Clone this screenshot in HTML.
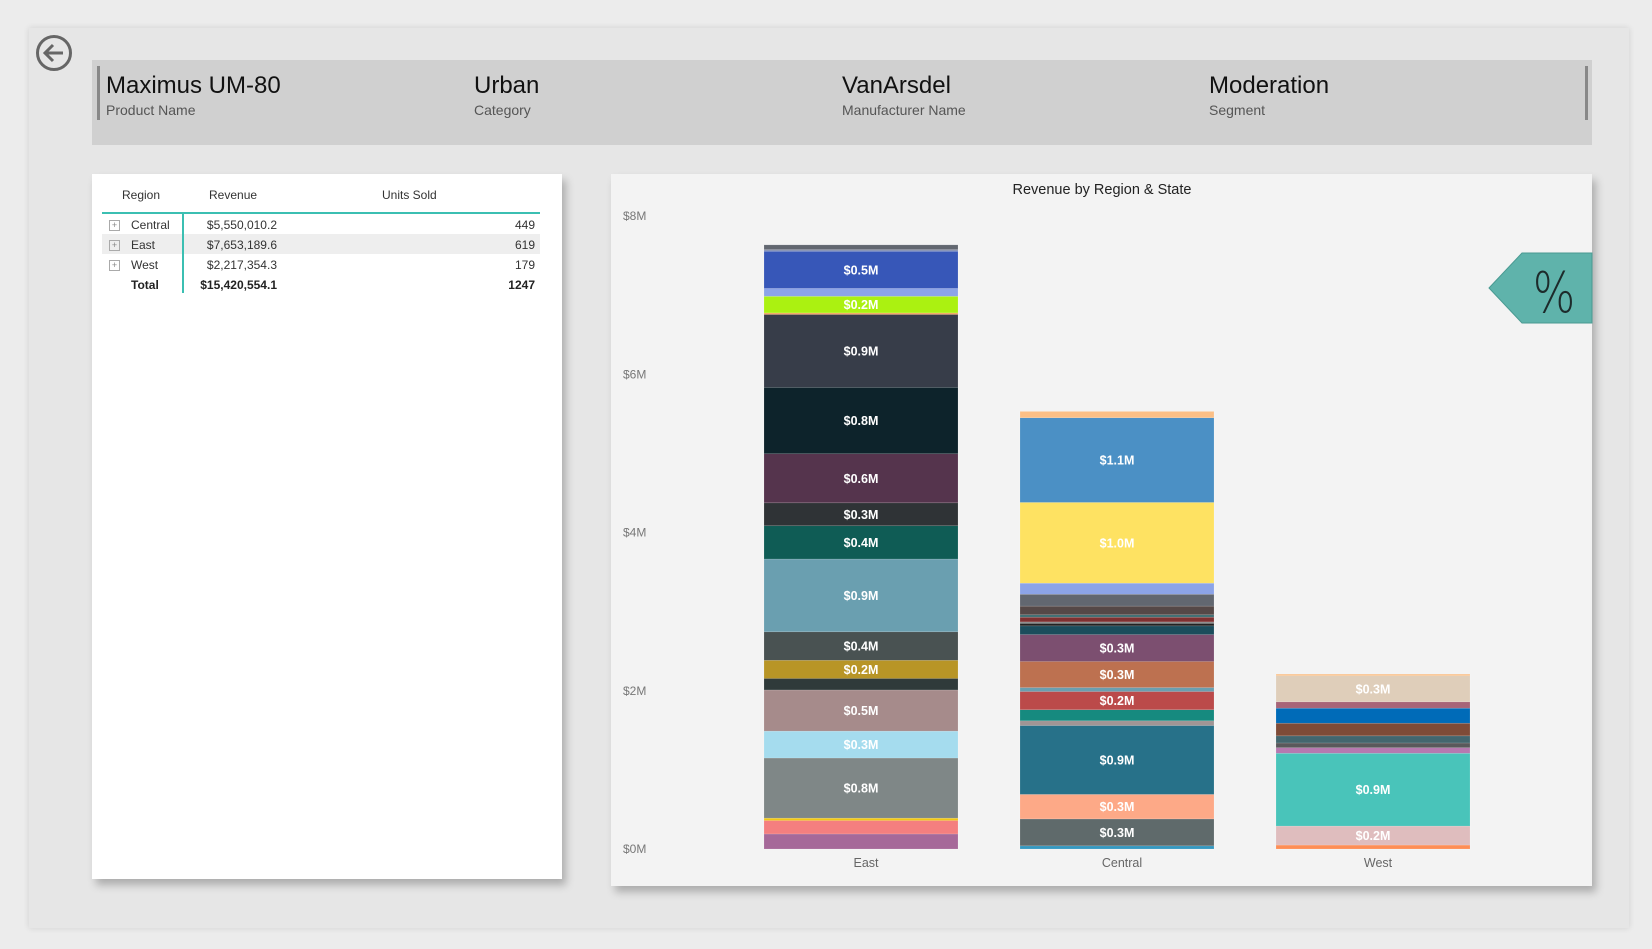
<!DOCTYPE html>
<html><head><meta charset="utf-8">
<style>
body{margin:0;width:1652px;height:949px;background:#ececec;font-family:"Liberation Sans",sans-serif;overflow:hidden;position:relative}
.abs{position:absolute}
#outer{left:29px;top:28px;width:1600px;height:900px;background:#e6e6e6;box-shadow:0 0 6px rgba(0,0,0,0.12)}
#band{left:92px;top:60px;width:1500px;height:85px;background:#d0d0d0}
.cardtitle{font-size:24px;color:#111;top:12px}
.cardsub{font-size:14px;color:#555;top:42px}
#table{left:92px;top:174px;width:470px;height:705px;background:#fff;box-shadow:4px 6px 8px rgba(0,0,0,0.25)}
#chartcard{left:611px;top:174px;width:981px;height:712px;background:#f3f3f3;box-shadow:4px 6px 8px rgba(0,0,0,0.25)}
.t{font-size:12px;color:#333;position:absolute}
.plus{position:absolute;width:9px;height:9px;border:1px solid #aaa;font-size:9px;line-height:9px;text-align:center;color:#888}
</style></head><body>
<div id="outer" class="abs"></div>
<svg class="abs" style="left:35px;top:34px" width="40" height="40">
<circle cx="19" cy="19" r="16.5" fill="none" stroke="#666" stroke-width="3"/>
<path d="M28 19H11M18 11l-8 8 8 8" fill="none" stroke="#666" stroke-width="3"/>
</svg>
<div id="band" class="abs">
<div class="abs" style="left:5px;top:6px;width:3px;height:54px;background:#888"></div>
<div class="abs" style="left:1493px;top:6px;width:3px;height:54px;background:#888"></div>
<div class="abs cardtitle" style="left:14px">Maximus UM-80</div>
<div class="abs cardsub" style="left:14px">Product Name</div>
<div class="abs cardtitle" style="left:382px">Urban</div>
<div class="abs cardsub" style="left:382px">Category</div>
<div class="abs cardtitle" style="left:750px">VanArsdel</div>
<div class="abs cardsub" style="left:750px">Manufacturer Name</div>
<div class="abs cardtitle" style="left:1117px">Moderation</div>
<div class="abs cardsub" style="left:1117px">Segment</div>
</div>

<div id="table" class="abs">
<div class="t" style="left:30px;top:14px">Region</div>
<div class="t" style="left:117px;top:14px">Revenue</div>
<div class="t" style="left:290px;top:14px">Units Sold</div>
<div class="abs" style="left:10px;top:38px;width:438px;height:2px;background:#3bbfb2"></div>
<div class="abs" style="left:10px;top:60px;width:438px;height:20px;background:#eeeeee"></div>
<div class="abs" style="left:90px;top:39px;width:2px;height:80px;background:#3bbfb2"></div>
<div class="plus" style="left:17px;top:46px">+</div>
<div class="t" style="left:39px;top:44px">Central</div>
<div class="t" style="right:285px;top:44px">$5,550,010.2</div>
<div class="t" style="right:27px;top:44px">449</div>
<div class="plus" style="left:17px;top:66px">+</div>
<div class="t" style="left:39px;top:64px">East</div>
<div class="t" style="right:285px;top:64px">$7,653,189.6</div>
<div class="t" style="right:27px;top:64px">619</div>
<div class="plus" style="left:17px;top:86px">+</div>
<div class="t" style="left:39px;top:84px">West</div>
<div class="t" style="right:285px;top:84px">$2,217,354.3</div>
<div class="t" style="right:27px;top:84px">179</div>
<div class="t" style="left:39px;top:104px;font-weight:bold;color:#222">Total</div>
<div class="t" style="right:285px;top:104px;font-weight:bold;color:#222">$15,420,554.1</div>
<div class="t" style="right:27px;top:104px;font-weight:bold;color:#222">1247</div>
</div>

<div id="chartcard" class="abs"></div>
<svg id="chart" class="abs" style="left:0;top:0" width="1652" height="949"></svg>

<script>
const categories=["East","Central","West"];
const eastValues=[0.19,0.17,0.03,0.76,0.34,0.52,0.145,0.23,0.36,0.92,0.42,0.29,0.62,0.84,0.92,0.02,0.21,0.10,0.47,0.02,0.06];
const eastColors=["#a66999","#f47f7f","#f2c811","#7f8787","#a5dcee","#a68b8b","#2f3a3a","#b89526","#495252","#6a9fb0","#0f5c55","#2f3336","#55344d","#0d232b","#373d49","#f5a35b","#abf111","#8ca4e8","#3757b8","#8a96b8","#626770"];
const centralValues=[0.04,0.34,0.31,0.87,0.06,0.14,0.23,0.05,0.33,0.34,0.11,0.03,0.02,0.06,0.03,0.11,0.15,0.14,1.02,1.07,0.08];
const centralColors=["#3598c0","#5f6a6b","#fda987","#277189","#a09595","#168a7f","#bb4a4a","#6a9fb0","#bd7150","#7c4f70","#1b4d5c","#222222","#888888","#7f3030","#3f6f73","#554847","#626770","#8ca4e8","#fee262","#4b90c5","#fbbf86"];
const westValues=[0.05,0.24,0.92,0.07,0.06,0.09,0.16,0.19,0.08,0.33,0.02];
const westColors=["#fd8e56","#dfbdbe","#49c4ba","#b679b0","#59595b","#43666e","#7e4b37","#006bb8","#a76578","#dfceba","#fbbf86"];
const seriesValues=[eastValues,centralValues,westValues];
const seriesColors=[eastColors,centralColors,westColors];
const yTicks=[0,2,4,6,8];

const NS="http://www.w3.org/2000/svg";
const svg=document.getElementById('chart');
const y0=849,y8=216,yMax=8;
function yScale(v){return y0-(v/yMax)*(y0-y8);}
const bandStart=764,bandStep=256,barW=194;
function xScale(i){return bandStart+i*bandStep;}
function mk(tag,attrs){const e=document.createElementNS(NS,tag);for(const k in attrs)e.setAttribute(k,attrs[k]);svg.appendChild(e);return e;}

const title=mk('text',{x:1102,y:194,'text-anchor':'middle','font-size':14.5,fill:'#222','font-family':'Liberation Sans, sans-serif'});


title.textContent='Revenue by Region & State';

yTicks.forEach(t=>{
  const tx=mk('text',{x:623,y:yScale(t)+4,'font-size':12,fill:'#777','font-family':'Liberation Sans, sans-serif'});
  
  
  tx.textContent='$'+t+'M';
});

categories.forEach((c,i)=>{
  let cum=0;
  const vals=seriesValues[i],cols=seriesColors[i];
  vals.forEach((v,j)=>{
    const yt=yScale(cum+v),yb=yScale(cum);
    const r=mk('rect',{x:xScale(i),y:yt,width:barW,height:Math.max(yb-yt,0.5),fill:cols[j%cols.length],stroke:'rgba(255,255,255,0.25)','stroke-width':0.5});
    
    
    if(v>=0.2){
      const lb=mk('text',{x:xScale(i)+barW/2,y:(yt+yb)/2+4.5,'text-anchor':'middle','font-size':12.5,'font-weight':'bold',fill:'#fff','font-family':'Liberation Sans, sans-serif'});
      
      
      lb.textContent='$'+v.toFixed(1)+'M';
    }
    cum+=v;
  });
  const xl=mk('text',{x:xScale(i)+barW/2+5,y:867,'text-anchor':'middle','font-size':12.5,fill:'#666','font-family':'Liberation Sans, sans-serif'});
  
  
  xl.textContent=c;
});

const badge=mk('polygon',{points:'1489,288 1522,253 1592,253 1592,323 1522,323',fill:'#5fb3ab',stroke:'#4a9a92','stroke-width':1});


const pct=mk('text',{x:1554,y:312,'text-anchor':'middle','font-size':56,'font-weight':'300',fill:'#1d2b2b','font-family':'DejaVu Sans, sans-serif','transform':'translate(1554 0) scale(0.8 1) translate(-1554 0)'});


pct.textContent='%';
</script>
</body></html>
